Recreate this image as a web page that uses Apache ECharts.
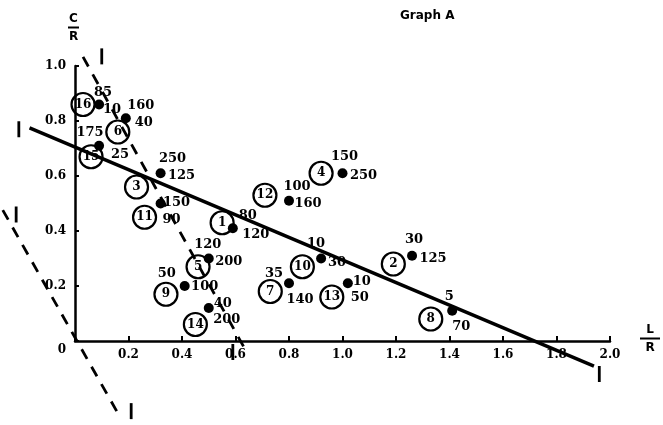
<!DOCTYPE html>
<html><head><meta charset="utf-8">
<script src="https://cdn.jsdelivr.net/npm/echarts@6/dist/echarts.min.js"></script>
<style>html,body{margin:0;padding:0;background:#fff}#c{width:663px;height:425px}</style>
</head><body><div id="c"></div>
<script>
// ---- data ----
const pointIds    = ['1','2','3','4','5','6','7','8','9','10','11','12','13','14','15','16'];
const dotX        = [0.59,1.26,0.32,1.00,0.50,0.19,0.80,1.41,0.41,0.92,0.32,0.80,1.02,0.50,0.09,0.09];
const dotY        = [0.41,0.31,0.61,0.61,0.30,0.81,0.21,0.11,0.20,0.30,0.50,0.51,0.21,0.12,0.71,0.86];
const upperValues = ['80','30','250','150','120','160','35','5','50','10','150','100','10','40','175','85'];
const sideValues  = ['120','125','125','250','200','40','140','70','100','30','90','160','50','200','25','10'];
const circleX     = [0.55,1.19,0.23,0.92,0.46,0.16,0.73,1.33,0.34,0.85,0.26,0.71,0.96,0.45,0.06,0.03];
const circleY     = [0.43,0.28,0.56,0.61,0.27,0.76,0.18,0.08,0.17,0.27,0.45,0.53,0.16,0.06,0.67,0.86];
const fitLineX    = [-0.17, 1.94];
const fitLineY    = [0.775, -0.091];
const dashAX      = [0.03, 0.63];
const dashAY      = [1.033, -0.02];
const dashBX      = [-0.27, 0.16];
const dashBY      = [0.476, -0.262];
const capX        = [-0.21, 1.96, 0.10, 0.59, -0.22, 0.21];
const capY        = [0.77, -0.12, 1.035, -0.04, 0.46, -0.255];
const xTicks      = ['0','0.2','0.4','0.6','0.8','1.0','1.2','1.4','1.6','1.8','2.0'];
const yTicks      = ['0','0.2','0.4','0.6','0.8','1.0'];

// ---- layout (label offsets in px, not data) ----
const upperOffset = [[15,-13],[2,-16],[12,-15],[2,-17],[-1,-14],[15,-13],[-15,-10],[-3,-14],[-18,-12],[-5,-15],[16,-1],[8,-14],[14,-2],[14,-4],[-9,-13],[4,-12]];
const sideOffset  = [[23,6],[21,3],[21,2],[21,2],[20,3],[18,4],[11,16],[9,16],[20,1],[16,4],[11,16],[19,3],[12,14],[18,12],[21,9],[13,5]];

const INK = '#000';
const numFont = {fontFamily:'DejaVu Serif', fontWeight:'bold', fontSize:13, color:INK, textBorderWidth:0, textShadowBlur:0, opacity:1};
const pair = (xs, ys) => xs.map((x,i)=>[x, ys[i]]);
const seg = (xs, ys) => [[xs[0], ys[0], xs[1], ys[1]]];

function segmentSeries(xs, ys, width, dash){
  return {type:'custom', clip:false, z:3, silent:true,
    encode:{x:[0,2], y:[1,3]},
    data:seg(xs, ys),
    renderItem:(params, api)=>{
      const a = api.coord([api.value(0), api.value(1)]);
      const b = api.coord([api.value(2), api.value(3)]);
      return {type:'line', shape:{x1:a[0], y1:a[1], x2:b[0], y2:b[1]},
        style:{stroke:INK, lineWidth:width, lineDash:dash, lineCap:'butt', fill:null}};
    }};
}

const chart = echarts.init(document.getElementById('c'), null, {renderer:'canvas'});
const nameRich = (w)=>({
  a:{fontFamily:'DejaVu Sans', fontWeight:'bold', fontSize:12, color:INK, align:'center', lineHeight:13},
  b:{width:w, height:2, backgroundColor:INK, align:'center', lineHeight:5},
  c:{fontFamily:'DejaVu Sans', fontWeight:'bold', fontSize:12, color:INK, align:'center', lineHeight:14}});
chart.setOption({
  animation:false,
  backgroundColor:'#fff',
  title:{text:'Graph A', left:395, top:5, textStyle:{fontFamily:'DejaVu Sans', fontWeight:'bold', fontSize:12, color:INK}},
  grid:{left:75, right:53, top:66, bottom:84, containLabel:false},
  xAxis:{type:'value', min:0, max:2.0, interval:0.2,
    name:'{a|L}\n{b|}\n{c|R}', nameLocation:'end', nameGap:30,
    nameTextStyle:{rich:nameRich(20), padding:[0,0,4,0]},
    axisLine:{lineStyle:{color:INK, width:2.5}},
    axisTick:{inside:true, length:5, lineStyle:{color:INK, width:2}},
    axisLabel:{margin:8, fontFamily:'DejaVu Serif', fontWeight:'bold', fontSize:12, color:INK,
      formatter:(v)=>{const i=Math.round(v/0.2); return i===0?'':xTicks[i];}},
    splitLine:{show:false}},
  yAxis:{type:'value', min:0, max:1.0, interval:0.2,
    name:'{a|C}\n{b|}\n{c|R}', nameLocation:'end', nameGap:22,
    nameTextStyle:{rich:nameRich(11), padding:[0,3,0,0]},
    axisLine:{lineStyle:{color:INK, width:2.5}},
    axisTick:{inside:true, length:4, lineStyle:{color:INK, width:2}},
    axisLabel:{margin:9, fontFamily:'DejaVu Serif', fontWeight:'bold', fontSize:12, color:INK,
      formatter:(v)=>{const i=Math.round(v/0.2); return i===0?'{z|0}':yTicks[i];},
      rich:{z:{padding:[18,0,0,0], fontFamily:'DejaVu Serif', fontWeight:'bold', fontSize:12, color:INK}}},
    splitLine:{show:false}},
  series:[
    segmentSeries(fitLineX, fitLineY, 3.5, null),
    segmentSeries(dashAX, dashAY, 2.8, [11,9]),
    segmentSeries(dashBX, dashBY, 2.8, [11,9]),
    {type:'scatter', clip:false, symbol:'rect', symbolSize:[2.8,16], data:pair(capX, capY), itemStyle:{color:INK, opacity:1}, z:3},
    {type:'scatter', clip:false, symbol:'circle', symbolSize:23, data:pair(circleX, circleY),
      itemStyle:{color:'rgba(255,255,255,0)', borderColor:INK, borderWidth:2.2, opacity:1}, z:4,
      label:{show:true, position:'inside', formatter:(p)=>pointIds[p.dataIndex], ...numFont, fontSize:12}},
    {type:'scatter', clip:false, symbol:'circle', symbolSize:10, data:pair(dotX, dotY), itemStyle:{color:INK, opacity:1}, z:5},
    {type:'scatter', clip:false, symbol:'circle', symbolSize:1, itemStyle:{color:'rgba(0,0,0,0)', opacity:1}, z:6,
      data:pair(dotX, dotY).map((v,i)=>({value:v, label:{offset:upperOffset[i]}})),
      label:{show:true, position:'inside', formatter:(p)=>upperValues[p.dataIndex], ...numFont}},
    {type:'scatter', clip:false, symbol:'circle', symbolSize:1, itemStyle:{color:'rgba(0,0,0,0)', opacity:1}, z:6,
      data:pair(dotX, dotY).map((v,i)=>({value:v, label:{offset:sideOffset[i]}})),
      label:{show:true, position:'inside', formatter:(p)=>sideValues[p.dataIndex], ...numFont}}
  ]
});
</script></body></html>
